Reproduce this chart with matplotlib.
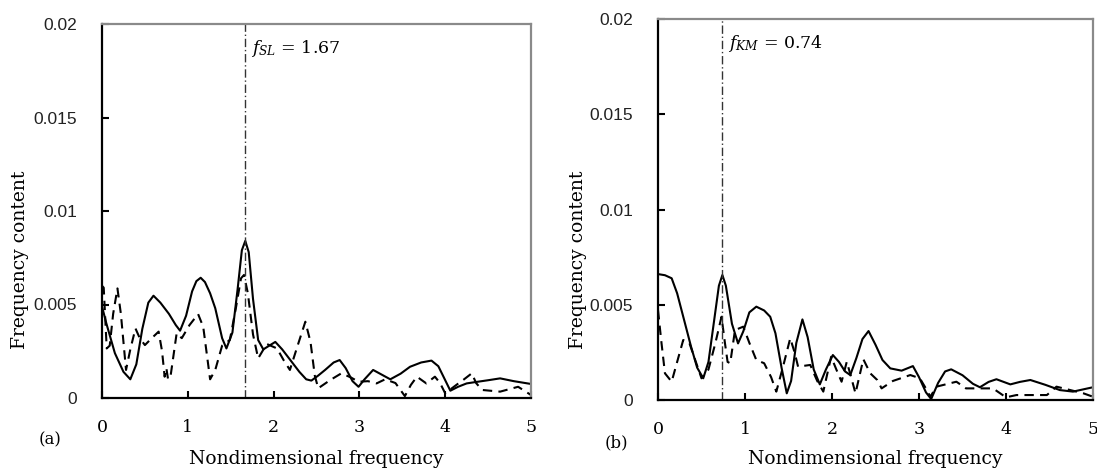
import matplotlib
matplotlib.use("Agg")
import matplotlib.pyplot as plt
import numpy as np

# values (frequency content in units of 1e-3)
a_solid_f = [0.0, 0.05, 0.15, 0.25, 0.33, 0.40, 0.47, 0.54, 0.60, 0.68, 0.78, 0.86, 0.91, 0.98, 1.05,
             1.10, 1.15, 1.20, 1.26, 1.32, 1.40, 1.45, 1.52, 1.58, 1.63, 1.67, 1.71, 1.76, 1.82, 1.88,
             1.95, 2.02, 2.10, 2.20, 2.30, 2.38, 2.44, 2.52, 2.60, 2.70, 2.77, 2.84, 2.92, 2.99, 3.06,
             3.16, 3.24, 3.36, 3.48, 3.59, 3.72, 3.84, 3.92, 3.98, 4.06, 4.15, 4.25, 4.35, 4.50, 4.64,
             4.80, 5.0]
a_solid_v = [4.9, 4.0, 2.4, 1.4, 1.0, 1.8, 3.7, 5.1, 5.47, 5.1, 4.5, 3.9, 3.6, 4.4, 5.7,
             6.25, 6.43, 6.2, 5.6, 4.8, 3.2, 2.65, 3.5, 5.8, 7.9, 8.4, 7.8, 5.3, 3.1, 2.6,
             2.8, 3.0, 2.6, 2.0, 1.4, 1.0, 0.93, 1.2, 1.5, 1.9, 2.03, 1.6, 0.9, 0.6, 1.0,
             1.5, 1.3, 1.0, 1.3, 1.67, 1.9, 2.0, 1.7, 1.14, 0.39, 0.6, 0.78, 0.85, 0.95, 1.05,
             0.9, 0.75]

a_dash_f = [0.0, 0.02, 0.055, 0.09, 0.13, 0.18, 0.22, 0.28, 0.33, 0.39, 0.44, 0.50, 0.58, 0.66, 0.70,
            0.73, 0.75, 0.77, 0.80, 0.87, 0.93, 1.02, 1.12, 1.18, 1.26, 1.32, 1.40, 1.49, 1.56, 1.62,
            1.655, 1.70, 1.76, 1.82, 1.92, 2.04, 2.12, 2.19, 2.28, 2.37, 2.43, 2.48, 2.52, 2.66, 2.79,
            2.90, 2.99, 3.10, 3.20, 3.30, 3.42, 3.53, 3.60, 3.67, 3.78, 3.88, 3.94, 4.0, 4.13, 4.22,
            4.31, 4.36, 4.43, 4.64, 4.85, 5.0]
a_dash_v = [6.0, 5.9, 2.65, 2.8, 4.5, 5.86, 4.5, 1.5, 2.6, 3.72, 3.2, 2.83, 3.2, 3.55, 2.5,
            1.14, 1.6, 1.0, 1.2, 3.46, 3.2, 3.9, 4.49, 3.8, 1.0, 1.5, 2.8, 3.1, 4.8, 6.4,
            6.58, 5.6, 3.4, 2.12, 2.89, 2.65, 2.0, 1.5, 2.8, 4.08, 3.0, 1.2, 0.52, 0.96, 1.32,
            1.1, 0.87, 0.9, 0.78, 1.0, 0.8, 0.1, 0.7, 1.14, 0.78, 1.14, 0.8, 0.25, 0.7, 1.0,
            1.32, 0.8, 0.43, 0.34, 0.6, 0.16]

b_solid_f = [0.0, 0.08, 0.157, 0.22, 0.30, 0.38, 0.45, 0.52, 0.58, 0.64, 0.70, 0.74, 0.78, 0.85, 0.92,
             0.98, 1.05, 1.13, 1.22, 1.29, 1.35, 1.42, 1.48, 1.53, 1.59, 1.66, 1.72, 1.79, 1.86, 1.93,
             2.01, 2.08, 2.15, 2.21, 2.28, 2.35, 2.42, 2.50, 2.58, 2.67, 2.80, 2.93, 3.00, 3.08, 3.14,
             3.22, 3.30, 3.37, 3.50, 3.62, 3.70, 3.80, 3.89, 4.05, 4.16, 4.28, 4.45, 4.62, 4.77, 5.0]
b_solid_v = [6.61, 6.55, 6.39, 5.6, 4.2, 2.8, 1.7, 1.14, 2.0, 4.0, 6.0, 6.56, 6.0, 4.0, 2.97,
             3.6, 4.6, 4.9, 4.7, 4.37, 3.5, 1.7, 0.35, 1.0, 3.0, 4.23, 3.3, 1.6, 0.82, 1.6,
             2.36, 2.0, 1.5, 1.31, 2.2, 3.2, 3.62, 2.9, 2.1, 1.66, 1.54, 1.78, 1.2, 0.4, 0.05,
             0.9, 1.5, 1.61, 1.3, 0.85, 0.67, 0.95, 1.09, 0.82, 0.95, 1.05, 0.8, 0.52, 0.44, 0.67]

b_dash_f = [0.0, 0.04, 0.08, 0.157, 0.22, 0.29, 0.36, 0.42, 0.50, 0.58, 0.66, 0.73, 0.77, 0.80, 0.83,
            0.885, 0.98, 1.05, 1.13, 1.22, 1.30, 1.36, 1.44, 1.52, 1.57, 1.61, 1.75, 1.83, 1.90, 1.99,
            2.05, 2.11, 2.17, 2.22, 2.27, 2.36, 2.44, 2.52, 2.57, 2.70, 2.90, 3.01, 3.08, 3.13, 3.20,
            3.43, 3.54, 3.85, 4.0, 4.12, 4.47, 4.58, 4.74, 4.89, 5.0]
b_dash_v = [4.72, 3.0, 1.4, 0.96, 2.0, 3.15, 3.0, 2.2, 1.14, 1.6, 3.0, 4.37, 2.97, 2.0, 1.93,
            3.67, 3.85, 3.0, 2.1, 1.93, 1.2, 0.44, 1.8, 3.24, 2.5, 1.75, 1.84, 1.0, 0.44, 2.27,
            1.6, 0.96, 2.01, 1.2, 0.35, 2.14, 1.4, 1.05, 0.61, 1.0, 1.31, 1.14, 0.6, 0.17, 0.7,
            0.96, 0.61, 0.61, 0.14, 0.26, 0.26, 0.7, 0.52, 0.35, 0.17]

x_ticks = [0, 1, 2, 3, 4, 5]
y_ticks = [0, 0.005, 0.01, 0.015, 0.02]
y_tick_labels = ["0", "0.005", "0.01", "0.015", "0.02"]

serif = "DejaVu Serif"
sans = "Liberation Sans"
plt.rcParams["mathtext.fontset"] = "dejavuserif"

W, H = 1097, 472
fig = plt.figure(figsize=(W / 100, H / 100), dpi=100)


def panel(rect, sf, sv, df, dv, fmark, label, tag, tagpos):
    l, b, r, t = rect
    ax = fig.add_axes([l / W, 1 - b / H, (r - l) / W, (b - t) / H])
    ax.plot(sf, np.array(sv) * 1e-3, color="black", lw=1.5, solid_joinstyle="round")
    ax.plot(df, np.array(dv) * 1e-3, color="black", lw=1.5, dashes=(4.5, 3))
    ax.axvline(fmark, color="#333333", lw=1.0, dashes=(6, 2, 1, 2))
    ax.set_xlim(0, 5)
    ax.set_ylim(0, 0.02)
    ax.set_xticks(x_ticks)
    ax.set_yticks(y_ticks)
    ax.set_yticklabels(y_tick_labels, family=sans, fontsize=12.5, color="#222222")
    for lab in ax.get_xticklabels():
        lab.set_family(serif)
        lab.set_fontsize(12.5)
    ax.tick_params(direction="in", length=5, width=1.5, top=False, right=False)
    ax.tick_params(axis="x", pad=15)
    ax.tick_params(axis="y", pad=18)
    for s in ["left", "bottom"]:
        ax.spines[s].set_linewidth(1.6)
        ax.spines[s].set_color("black")
    for s in ["top", "right"]:
        ax.spines[s].set_linewidth(1.6)
        ax.spines[s].set_color("#8a8a8a")
    ax.set_xlabel("Nondimensional frequency", family=serif, fontsize=13.5)
    ax.set_ylabel("Frequency content", family=serif, fontsize=13.5)
    ax.xaxis.set_label_coords(0.5, -(459 - b) / (b - t), transform=ax.transAxes)
    ax.xaxis.label.set_va("center")
    ax.yaxis.set_label_coords(-(l - tagpos[2]) / (r - l), (b - 260) / (b - t))
    ax.yaxis.label.set_va("center")
    ax.text(fmark + 0.07, 0.0187, label, family=serif, fontsize=12.5, va="center")
    fig.text(tagpos[0] / W, 1 - tagpos[1] / H, tag, family=serif, fontsize=12, ha="center", va="center")
    return ax


ax1 = panel((102, 398, 531, 24), a_solid_f, a_solid_v, a_dash_f, a_dash_v, 1.67,
            r"$f_{SL}$ = 1.67", "(a)", (50, 440, 20))
ax2 = panel((658, 400, 1093, 19), b_solid_f, b_solid_v, b_dash_f, b_dash_v, 0.74,
            r"$f_{KM}$ = 0.74", "(b)", (616, 443, 578))

fig.savefig("out.png", dpi=100)
